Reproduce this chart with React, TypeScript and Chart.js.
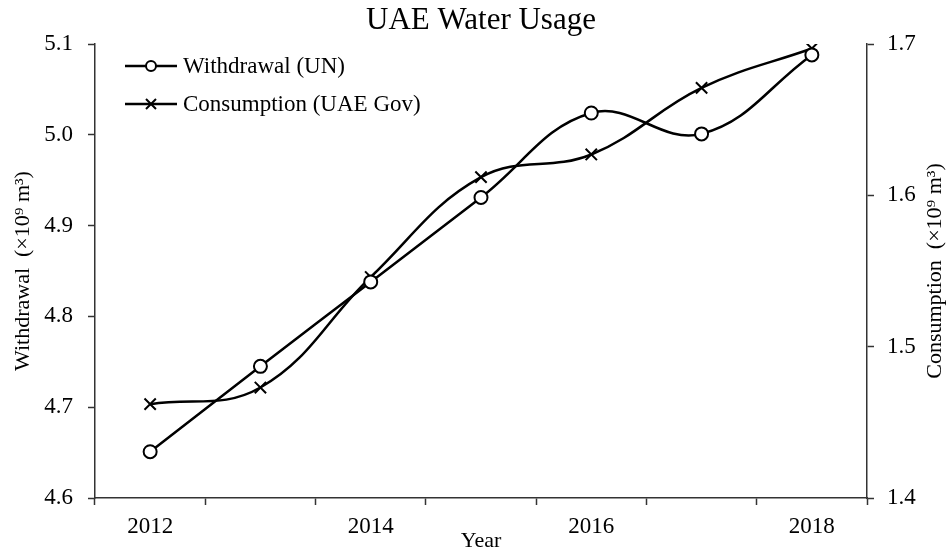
import React, { useEffect, useRef } from "react";
import { Chart, registerables } from "chart.js";

Chart.register(...registerables);

const years = ["2012", "2013", "2014", "2015", "2016", "2017", "2018"];
const withdrawal = [4.651, 4.745, 4.838, 4.931, 5.024, 5.001, 5.088];
const consumption = [1.462, 1.473, 1.546, 1.612, 1.627, 1.671, 1.697];
const leftTicks = [4.6, 4.7, 4.8, 4.9, 5.0, 5.1];
const rightTicks = [1.4, 1.5, 1.6, 1.7];

const titleText = "UAE Water Usage";
const xTitle = "Year";
const leftTitle = "Withdrawal  (×10⁹ m³)";
const rightTitle = "Consumption  (×10⁹ m³)";
const legendLabels = ["Withdrawal (UN)", "Consumption (UAE Gov)"];

const FONT = '"Liberation Serif", "DejaVu Serif", serif';
const AXIS = "#333333";

const decorPlugin = {
  id: "decor",
  afterDraw(chart: any) {
    const ctx = chart.ctx as CanvasRenderingContext2D;
    const { top, bottom, left, right } = chart.chartArea;
    const cy = (top + bottom) / 2;
    ctx.save();
    // title
    ctx.fillStyle = "#000";
    ctx.font = `31px ${FONT}`;
    ctx.textAlign = "center";
    ctx.textBaseline = "middle";
    ctx.fillText(titleText, (left + right) / 2, 21);

    ctx.font = `22px ${FONT}`;
    ctx.save();
    ctx.translate(23, cy);
    ctx.rotate(-Math.PI / 2);
    ctx.fillText(leftTitle, 0, 0);
    ctx.restore();
    ctx.save();
    ctx.translate(935, cy);
    ctx.rotate(-Math.PI / 2);
    ctx.fillText(rightTitle, 0, 0);
    ctx.restore();

    // legend
    const rows = [66, 104];
    const x0 = 125, x1 = 177, xm = 151;
    rows.forEach((y, i) => {
      ctx.strokeStyle = "#000";
      ctx.lineWidth = 2.5;
      ctx.beginPath();
      ctx.moveTo(x0, y);
      ctx.lineTo(x1, y);
      ctx.stroke();
      if (i === 0) {
        ctx.fillStyle = "#fff";
        ctx.beginPath();
        ctx.arc(xm, y, 5, 0, Math.PI * 2);
        ctx.fill();
        ctx.lineWidth = 2;
        ctx.stroke();
      } else {
        const r = 5;
        ctx.lineWidth = 2;
        ctx.beginPath();
        ctx.moveTo(xm - r, y - r);
        ctx.lineTo(xm + r, y + r);
        ctx.moveTo(xm - r, y + r);
        ctx.lineTo(xm + r, y - r);
        ctx.stroke();
      }
      ctx.fillStyle = "#000";
      ctx.font = `23px ${FONT}`;
      ctx.textAlign = "left";
      ctx.textBaseline = "middle";
      ctx.fillText(legendLabels[i], 183, y + 1);
    });
    ctx.restore();
  },
};

export default function App() {
  const ref = useRef<HTMLCanvasElement>(null);
  useEffect(() => {
    document.body.style.margin = "0";
    const chart = new Chart(ref.current as HTMLCanvasElement, {
      type: "line",
      data: {
        labels: years,
        datasets: [
          {
            label: legendLabels[0],
            data: withdrawal,
            yAxisID: "y",
            borderColor: "#000",
            borderWidth: 2.5,
            tension: 0.4,
            pointStyle: "circle",
            pointRadius: 6.5,
            pointBorderWidth: 2,
            pointBackgroundColor: "#fff",
            pointBorderColor: "#000",
          },
          {
            label: legendLabels[1],
            data: consumption,
            yAxisID: "y1",
            borderColor: "#000",
            borderWidth: 2.5,
            tension: 0.4,
            pointStyle: "crossRot",
            pointRadius: 8,
            pointBorderWidth: 2,
            pointBackgroundColor: "#000",
            pointBorderColor: "#000",
          },
        ],
      },
      options: {
        responsive: false,
        animation: false,
        layout: { padding: { top: 44 } },
        plugins: {
          legend: { display: false },
          tooltip: { enabled: false },
          title: { display: false },
        },
        scales: {
          x: {
            type: "category",
            offset: true,
            afterFit(scale: any) {
              scale.height = 53;
            },
            grid: {
              offset: true,
              drawOnChartArea: false,
              drawTicks: true,
              tickLength: 7,
              tickWidth: 1.5,
              color: AXIS,
            },
            border: { display: true, color: AXIS, width: 1.5 },
            ticks: {
              color: "#000",
              font: { family: FONT, size: 23 },
              padding: 8,
              maxRotation: 0,
              autoSkip: false,
              callback: (_v: any, i: number) => (i % 2 === 0 ? years[i] : ""),
            },
            title: {
              display: true,
              text: xTitle,
              color: "#000",
              font: { family: FONT, size: 22, lineHeight: 0.9 },
              padding: { top: 0, bottom: 0 },
            },
          },
          y: {
            type: "linear",
            position: "left",
            min: leftTicks[0],
            max: leftTicks[leftTicks.length - 1],
            afterFit(scale: any) {
              scale.width = 95;
            },
            afterBuildTicks(scale: any) {
              scale.ticks = leftTicks.map((v) => ({ value: v }));
            },
            grid: {
              drawOnChartArea: false,
              tickLength: 7,
              tickWidth: 1.5,
              color: AXIS,
            },
            border: { display: true, color: AXIS, width: 1.5 },
            ticks: {
              color: "#000",
              font: { family: FONT, size: 23 },
              padding: 15,
              callback: (v: any) => Number(v).toFixed(1),
            },
          },
          y1: {
            type: "linear",
            position: "right",
            min: rightTicks[0],
            max: rightTicks[rightTicks.length - 1],
            afterFit(scale: any) {
              scale.width = 84;
            },
            afterBuildTicks(scale: any) {
              scale.ticks = rightTicks.map((v) => ({ value: v }));
            },
            grid: {
              drawOnChartArea: false,
              tickLength: 7,
              tickWidth: 1.5,
              color: AXIS,
            },
            border: { display: true, color: AXIS, width: 1.5 },
            ticks: {
              color: "#000",
              font: { family: FONT, size: 23 },
              padding: 13,
              callback: (v: any) => Number(v).toFixed(1),
            },
          },
        },
      },
      plugins: [decorPlugin],
    } as any);
    return () => chart.destroy();
  }, []);
  return (
    <div style={{ position: "absolute", left: 0, top: 0, width: 951, height: 551 }}>
      <canvas ref={ref} width={951} height={551} style={{ display: "block" }} />
    </div>
  );
}
